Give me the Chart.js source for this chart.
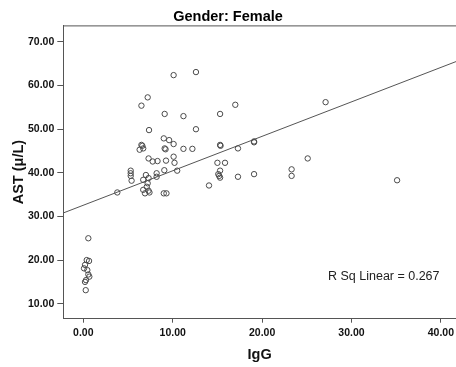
<!DOCTYPE html>
<html>
<head>
<meta charset="utf-8">
<script src="https://cdn.jsdelivr.net/npm/chart.js@4"></script>
<style>
  html, body { margin: 0; padding: 0; background: #fff; }
  #wrap { width: 456px; height: 367px; }
</style>
</head>
<body>
<div id="wrap"><canvas id="c" width="456" height="367"></canvas></div>
<script>
// ---- data ----
const chartTitle = "Gender: Female";
const xTitle = "IgG";
const yTitle = "AST (\u03BC/L)";
const rSqLabel = "R Sq Linear = 0.267";

const igg = [
  0.56, 0.38, 0.64, 0.19, 0.08, 0.45, 0.56, 0.67, 0.30, 0.19, 0.27,
  3.8,
  5.3, 5.3, 5.3, 5.4,
  6.5, 7.2, 7.35,
  6.3, 6.6, 6.7, 6.5,
  7.3,
  6.7, 7.0, 7.3, 7.2, 7.1, 6.7, 7.3, 6.9, 7.4,
  7.76, 8.3, 9.25,
  8.2, 8.2,
  9.06, 10.5,
  9.0, 9.3,
  9.0, 9.6, 10.1,
  9.1, 9.2,
  10.1, 10.2,
  9.1, 10.1, 11.2, 12.6, 12.6,
  11.2, 12.2,
  14.06,
  15.0, 15.85,
  15.3, 15.1, 15.2, 15.3,
  15.3, 15.35,
  15.3,
  17.0,
  17.3, 17.3,
  19.1, 19.1,
  19.1,
  23.3, 23.3,
  25.1,
  27.1,
  35.1
];
const ast = [
  25.0, 20.0, 19.8, 18.9, 18.1, 17.7, 16.7, 16.2, 15.4, 15.0, 13.1,
  35.5,
  40.5, 39.9, 39.3, 38.2,
  55.4, 57.3, 49.8,
  45.3, 46.2, 45.6, 46.4,
  43.3,
  38.4, 39.5, 38.8, 37.6, 36.8, 36.1, 35.9, 35.3, 35.5,
  42.6, 42.7, 42.8,
  39.9, 39.1,
  40.6, 40.5,
  35.3, 35.3,
  47.9, 47.5, 46.6,
  45.6, 45.4,
  43.7, 42.3,
  53.5, 62.4, 53.0, 63.1, 50.0,
  45.5, 45.5,
  37.1,
  42.3, 42.3,
  40.5, 39.7, 39.3, 38.9,
  46.4, 46.2,
  53.5,
  55.6,
  45.6, 39.1,
  47.2, 47.0,
  39.7,
  40.8, 39.3,
  43.3,
  56.2,
  38.3
];
const xTicks = [0, 10, 20, 30, 40];
const yTicks = [10, 20, 30, 40, 50, 60, 70];
const xMin = -2.24, xMax = 41.69;
const yMin = 6.56, yMax = 73.8;

// fit line (linear total fit)
const fitIntercept = 32.57;
const fitSlope = 0.79;

const points = igg.map((x, i) => ({x, y: ast[i]}));
const fitLine = [xMin, xMax].map(x => ({x, y: fitIntercept + fitSlope * x}));

const FONT = "'Liberation Sans', Arial, sans-serif";
const AXIS = '#555';

const framePlugin = {
  id: 'frame',
  afterDraw(chart) {
    const {ctx, chartArea: a} = chart;
    ctx.save();
    ctx.strokeStyle = AXIS;
    ctx.lineWidth = 1;
    ctx.beginPath();
    ctx.moveTo(a.left, a.top + 0.5);
    ctx.lineTo(a.right, a.top + 0.5);
    ctx.stroke();
    // R squared label
    ctx.fillStyle = '#222';
    ctx.font = "12.5px " + FONT;
    ctx.textBaseline = 'middle';
    ctx.textAlign = 'left';
    const xs = chart.scales.x, ys = chart.scales.y;
    ctx.fillText(rSqLabel, xs.getPixelForValue(27.37), ys.getPixelForValue(16.2));
    ctx.restore();
  }
};

new Chart(document.getElementById('c'), {
  type: 'scatter',
  data: {
    datasets: [
      {
        label: 'AST',
        data: points,
        pointRadius: 2.7,
        pointBorderWidth: 1,
        pointBorderColor: '#4a4a4a',
        pointBackgroundColor: 'rgba(0,0,0,0)',
        showLine: false,
        order: 1
      },
      {
        label: 'fit',
        type: 'line',
        data: fitLine,
        borderColor: '#555',
        borderWidth: 1,
        pointRadius: 0,
        pointHoverRadius: 0,
        fill: false,
        order: 2
      }
    ]
  },
  options: {
    responsive: false,
    animation: false,
    layout: { padding: 0, autoPadding: false },
    plugins: {
      legend: { display: false },
      tooltip: { enabled: false },
      title: {
        display: true,
        text: chartTitle,
        color: '#000',
        font: { family: FONT, size: 14.5, weight: 'bold' },
        padding: { top: 8, bottom: 0 }
      }
    },
    scales: {
      x: {
        type: 'linear',
        min: xMin, max: xMax,
        afterBuildTicks(s) { s.ticks = xTicks.map(v => ({value: v})); },
        afterFit(s) { s.height = 48.3; s.paddingLeft = 0; s.paddingRight = 0; },
        grid: { drawOnChartArea: false, drawTicks: true, tickLength: 4, color: AXIS },
        border: { display: true, color: AXIS, width: 1 },
        ticks: {
          color: '#111',
          padding: 4,
          maxRotation: 0,
          font: { family: FONT, size: 10.5, weight: 'bold' },
          callback: v => Number(v).toFixed(2)
        },
        title: {
          display: true, text: xTitle, color: '#111',
          font: { family: FONT, size: 14.5, weight: 'bold' },
          padding: { top: 0, bottom: 3.3 }
        }
      },
      y: {
        type: 'linear',
        min: yMin, max: yMax,
        afterBuildTicks(s) { s.ticks = yTicks.map(v => ({value: v})); },
        afterFit(s) { s.width = 63.3; s.paddingTop = 0; s.paddingBottom = 0; },
        grid: { drawOnChartArea: false, drawTicks: true, tickLength: 6, color: AXIS },
        border: { display: true, color: AXIS, width: 1 },
        ticks: {
          color: '#111',
          padding: 3,
          font: { family: FONT, size: 10.5, weight: 'bold' },
          callback: v => Number(v).toFixed(2)
        },
        title: {
          display: true, text: yTitle, color: '#111',
          font: { family: FONT, size: 14.5, weight: 'bold' },
          padding: { top: 10, bottom: 0 }
        }
      }
    }
  },
  plugins: [framePlugin]
});
</script>
</body>
</html>
